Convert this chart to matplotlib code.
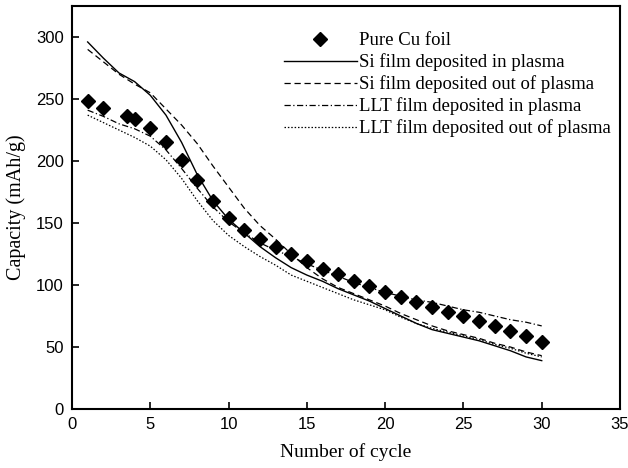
import matplotlib
matplotlib.use('Agg')
import matplotlib.pyplot as plt

# data
cycles = list(range(1, 31))

cu_x = [1, 2, 3.5, 4, 5, 6, 7, 8, 9, 10, 11, 12, 13, 14, 15, 16, 17, 18, 19, 20,
        21, 22, 23, 24, 25, 26, 27, 28, 29, 30]
cu_y = [248, 243, 236, 234, 227, 215, 201, 185, 168, 154, 144, 137, 131, 125, 119,
        113, 109, 103, 99, 94, 90, 86, 82, 78, 75, 71, 67, 63, 59, 54]

si_in = [296, 283, 271, 264, 253, 237, 215, 189, 168, 153, 142, 131, 122, 114, 108,
         103, 97, 92, 87, 81, 75, 69, 64, 61, 58, 55, 51, 47, 42, 39]
si_out = [290, 280, 270, 262, 255, 242, 229, 214, 196, 179, 162, 148, 137, 125, 114,
          105, 98, 93, 88, 83, 77, 72, 67, 63, 60, 57, 53, 50, 46, 43]
llt_in = [241, 236, 230, 226, 220, 209, 194, 178, 163, 151, 142, 134, 128, 123, 117,
          112, 107, 102, 98, 94, 91, 88, 86, 83, 80, 78, 75, 72, 70, 67]
llt_out = [237, 231, 225, 219, 212, 201, 186, 168, 152, 140, 131, 123, 116, 108, 103,
           98, 93, 88, 84, 80, 74, 69, 65, 62, 59, 56, 52, 49, 45, 42]

fig = plt.figure(figsize=(6.28, 4.68), dpi=100)
ax = fig.add_axes([72/628, 1-409/468, 548/628, 403/468])

# markers and lines
ax.plot(cu_x, cu_y, linestyle='none', marker='D', markersize=7.2, color='black',
        label='Pure Cu foil')
ax.plot(cycles, si_in, '-', color='black', lw=1.0, label='Si film deposited in plasma')
ax.plot(cycles, si_out, color='black', lw=0.9, dashes=(5, 3),
        label='Si film deposited out of plasma')
ax.plot(cycles, llt_in, color='black', lw=0.9, dashes=(5, 2, 1, 2),
        label='LLT film deposited in plasma')
ax.plot(cycles, llt_out, color='black', lw=0.9, dashes=(1.2, 1.5),
        label='LLT film deposited out of plasma')

ax.set_xlim(0, 35)
ax.set_ylim(0, 325)
ax.set_xticks(range(0, 36, 5))
ax.set_yticks(range(0, 301, 50))

for s in ax.spines.values():
    s.set_linewidth(1.5)
ax.tick_params(direction='in', length=5, width=1.2, pad=6, labelsize=12)
for lab in ax.get_xticklabels() + ax.get_yticklabels():
    lab.set_fontfamily('Liberation Sans')

ax.set_xlabel('Number of cycle', fontsize=14, family='Liberation Serif', labelpad=8)
ax.set_ylabel('Capacity (mAh/g)', fontsize=14.5, family='Liberation Serif', labelpad=7)

ax.legend(loc='upper left', bbox_to_anchor=(0.386, 0.935), frameon=False,
          prop={'family': 'Liberation Serif', 'size': 13.5},
          handlelength=3.9, handletextpad=0.1, labelspacing=0.22, borderpad=0,
          borderaxespad=0)

fig.savefig('out.png', dpi=100)
